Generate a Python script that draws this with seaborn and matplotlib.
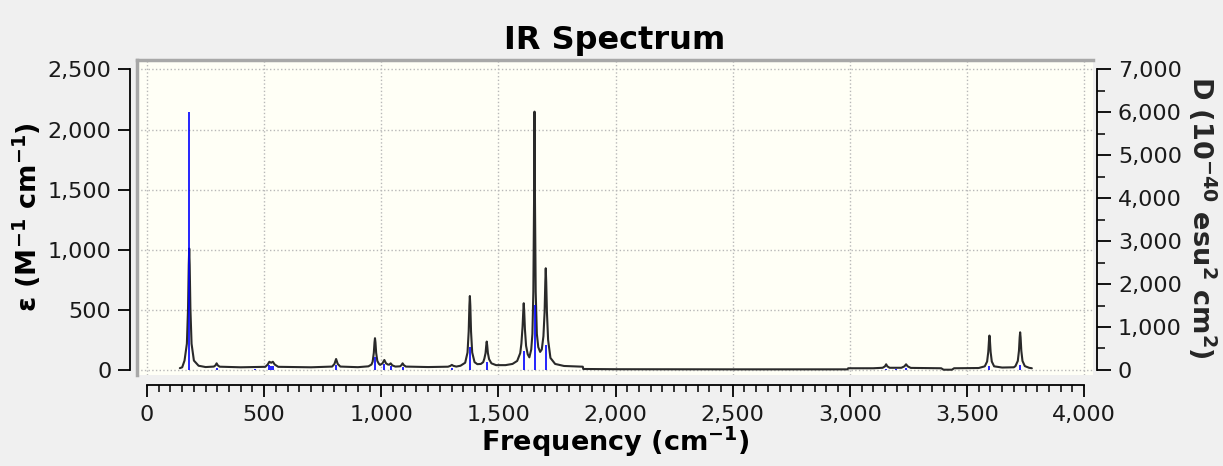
import matplotlib.pyplot as plt
import pandas as pd
import seaborn as sns
from matplotlib.ticker import MultipleLocator, StrMethodFormatter

sns.set_style('white')
plt.rcParams['font.family'] = ['DejaVu Sans']
plt.rcParams['mathtext.fontset'] = 'dejavusans'
plt.rcParams['mathtext.default'] = 'bf'

# broadened spectrum (epsilon, left axis)
freq = [140, 150, 160, 170, 175, 178, 180, 182, 185, 190, 200, 220, 250,
        285, 292, 297, 302, 310, 400, 505, 515, 522, 530, 537, 545, 560,
        700, 790, 800, 807, 814, 825, 900, 945, 958, 963, 968, 971, 973,
        975, 978, 983, 990, 995, 1005, 1013, 1020, 1028, 1034, 1040, 1047,
        1060, 1080, 1086, 1091, 1096, 1105, 1200, 1285, 1295, 1301, 1308,
        1320, 1338, 1358, 1368, 1373, 1376, 1378, 1380, 1383, 1388, 1398,
        1410, 1425, 1435, 1440, 1445, 1448, 1450, 1452, 1455, 1460, 1470,
        1490, 1530, 1560, 1580, 1593, 1598, 1603, 1606, 1608, 1610, 1613,
        1618, 1625, 1632, 1640, 1645, 1649, 1652, 1654, 1656, 1659, 1664,
        1670, 1678, 1685, 1692, 1697, 1700, 1702, 1704, 1707, 1712, 1722,
        1742, 1780, 1840, 1860, 1862, 2000, 2500, 2990, 2993, 3100, 3140,
        3150, 3155, 3160, 3170, 3220, 3233, 3240, 3247, 3260, 3390, 3400,
        3436, 3445, 3550, 3576, 3586, 3591, 3594, 3596, 3598, 3601, 3606,
        3616, 3650, 3700, 3707, 3717, 3722, 3725, 3727, 3729, 3732, 3737,
        3747, 3765, 3777]
eps = [15, 22, 78, 218, 515, 873, 1010, 873, 515, 218, 78, 35, 24,
       28, 38, 55, 38, 27, 22, 26, 45, 68, 60, 68, 45, 26,
       22, 28, 50, 91, 50, 28, 23, 30, 45, 69, 142, 230, 264,
       230, 142, 75, 50, 42, 55, 83, 55, 45, 44, 55, 38,
       28, 30, 40, 55, 40, 28, 24, 27, 34, 42, 34,
       28, 35, 60, 145, 320, 535, 615, 535, 320, 145, 65,
       48, 50, 65, 95, 140, 205, 236, 205, 140, 90, 55,
       40, 40, 50, 75, 140, 220, 360, 490, 555, 490, 340,
       200, 130, 105, 170, 300, 650, 1400, 2149, 1400, 650, 300,
       190, 150, 170, 280, 480, 730, 846, 730, 480, 250, 100,
       50, 33, 28, 27, 8, 6, 5, 5, 14, 14, 18,
       30, 47, 30, 18, 18, 30, 47, 30, 17, 14, 2,
       2, 14, 16, 30, 70, 150, 245, 286, 245, 150, 70,
       30, 20, 22, 32, 75, 160, 270, 313, 270, 160, 75,
       32, 18, 14]

# dipole strengths (right axis, 10^-40 esu^2 cm^2)
stick_freq = [180, 297, 461, 521, 530, 538, 807, 973, 1013, 1040, 1091,
              1301, 1378, 1450, 1608, 1654, 1702, 3155, 3196, 3240, 3596, 3727]
stick_d = [6020, 55, 30, 120, 90, 100, 110, 310, 140, 85, 80,
           55, 545, 195, 430, 1515, 580, 30, 25, 35, 90, 110]

spec = pd.DataFrame({'freq': freq, 'eps': eps})
sticks = pd.DataFrame({'freq': stick_freq, 'D': stick_d})

txt = '#1a1a1a'
fig = plt.figure(figsize=(12.23, 4.66), dpi=100, facecolor='#f0f0f0')
ax = fig.add_axes([0.112, 0.1953, 0.7817, 0.676])
ax.set_facecolor('#fffff6')

sns.lineplot(data=spec, x='freq', y='eps', sort=False, estimator=None,
             color='#2a2a2a', lw=1.5, ax=ax)

ax.set_xlim(-43, 4038)
ax.set_ylim(-42, 2579)
ax.xaxis.set_major_locator(MultipleLocator(500))
ax.xaxis.set_minor_locator(MultipleLocator(50))
ax.yaxis.set_major_locator(MultipleLocator(500))
ax.xaxis.set_major_formatter(StrMethodFormatter('{x:,.0f}'))
ax.yaxis.set_major_formatter(StrMethodFormatter('{x:,.0f}'))
ax.grid(True, color='#b8b8b8', ls=':', lw=1)
ax.set_axisbelow(True)

for side in ['left', 'bottom']:
    ax.spines[side].set_color('black')
    ax.spines[side].set_linewidth(1.3)
ax.spines['left'].set_position(('outward', 5))
ax.spines['left'].set_bounds(0, 2500)
ax.spines['bottom'].set_position(('outward', 7))
ax.spines['bottom'].set_bounds(0, 4000)
ax.spines['right'].set_visible(False)
ax.spines['top'].set_color('#a8a8a8')
ax.spines['top'].set_linewidth(2.5)

ax.tick_params(axis='y', which='major', direction='out', length=8.5, width=1.3,
               labelsize=16, pad=5, colors='black', labelcolor=txt, left=True)
ax.tick_params(axis='x', which='major', direction='out', length=8.5, width=1.3,
               labelsize=16, pad=6, colors='black', labelcolor=txt, bottom=True)
ax.tick_params(axis='x', which='minor', direction='out', length=5, width=1.1,
               colors='black', bottom=True)

ax.set_xlabel(r'Frequency (cm$^{-1}$)', fontsize=19.5, fontweight='bold',
              color='black', labelpad=0)
ax.set_ylabel(r'ε (M$^{-1}$ cm$^{-1}$)', fontsize=19.5,
              fontweight='bold', color='black', labelpad=3)
ax.set_title('IR Spectrum', fontsize=23, fontweight='bold', color='black', pad=8)

ax2 = ax.twinx()
ax2.vlines(sticks['freq'], 0, sticks['D'], color='#0000ff', lw=1.2)
ax2.set_ylim(-42 * 2.8, 2579 * 2.8)
ax2.yaxis.set_major_locator(MultipleLocator(1000))
ax2.yaxis.set_minor_locator(MultipleLocator(500))
ax2.yaxis.set_major_formatter(StrMethodFormatter('{x:,.0f}'))
ax2.spines['top'].set_visible(False)
ax2.spines['bottom'].set_visible(False)
ax2.spines['left'].set_color('#a8a8a8')
ax2.spines['left'].set_linewidth(2.5)
ax2.spines['right'].set_color('black')
ax2.spines['right'].set_linewidth(1.3)
ax2.spines['right'].set_position(('outward', 3))
ax2.spines['right'].set_bounds(0, 7000)
ax2.tick_params(axis='y', which='major', direction='out', length=10, width=1.3,
                labelsize=16, pad=5, colors='black', labelcolor=txt, right=True)
ax2.tick_params(axis='y', which='minor', direction='out', length=6, width=1.1,
                colors='black', right=True)
ax2.set_ylabel(r'D (10$^{-40}$ esu$^{2}$ cm$^{2}$)', fontsize=19.5,
               fontweight='bold', rotation=270, va='bottom', labelpad=3)

fig.savefig('out.png', dpi=100, facecolor=fig.get_facecolor())
